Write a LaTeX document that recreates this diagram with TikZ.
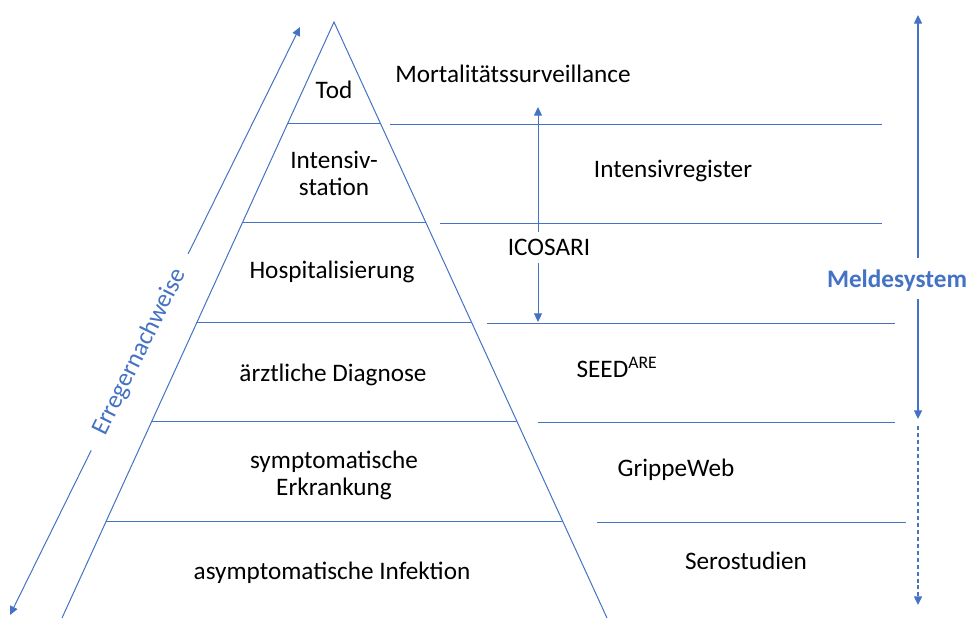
\documentclass[tikz,border=0pt]{standalone}
\usepackage{fontspec}
\setmainfont{Carlito}
\usetikzlibrary{arrows.meta,calc}
\tikzset{
  lbl/.style={font=\fontsize{18.9}{20.25}\selectfont,inner sep=0pt,anchor=base},
  tier/.style={lbl,align=center},
  rule/.style={blx,line width=0.75pt},
  tip/.style={-{Triangle[length=6.5pt,width=6pt]}}
}

\begin{document}
\begin{tikzpicture}[x=0.75pt,y=-0.75pt]
    \definecolor{blx}{HTML}{4472C4}
    \useasboundingbox (0,0) rectangle (969,618);

    \coordinate (top) at (334,22);
    \coordinate (bl) at (62,618);
    \coordinate (br) at (607,618);
    \draw [rule] (bl) -- (top) -- (br);

    \foreach \t/\n in {0.1711/1,0.3372/2,0.5050/3,0.6711/4,0.8389/5}
        \draw [rule] ($(top)!\t!(bl)$) coordinate (l\n) -- ($(top)!\t!(br)$) coordinate (r\n);

    \foreach \y/\a/\b in {124/390/882,223/440/882,323/487/895,422/538/895,522/597/906}
        \draw [rule] (\a,\y) -- (\b,\y);

    \node [lbl] (tod) at (334,98) {Tod};
    \node [tier] (icu) at (334,195) {Intensiv-\\station};
    \node [lbl] (hosp) at (332,278) {Hospitalisierung};
    \node [lbl] (arzt) at (333,381) {ärztliche Diagnose};
    \node [tier] (sympt) at (334,495) {symptomatische\\Erkrankung};
    \node [lbl] (asympt) at (332,579) {asymptomatische Infektion};

    \node [lbl] (mort) at (513,82) {Mortalitätssurveillance};
    \node [lbl] (intreg) at (673,177) {Intensivregister};
    \node [lbl] (icosari) at (549,255) {ICOSARI};
    \node [lbl] (seed) at (617,377) {SEED\textsuperscript{ARE}};
    \node [lbl] (grippe) at (676,476) {GrippeWeb};
    \node [lbl] (sero) at (746,569) {Serostudien};
    \node [lbl,font=\fontsize{18.9}{20.25}\selectfont\bfseries,text=blx] (meld) at (897,287) {Meldesystem};

    \coordinate (ico-up) at (538,107);
    \coordinate (ico-dn) at (538,322);
    \draw [rule,tip] (538,232) -- (ico-up);
    \draw [rule,tip] (538,263) -- (ico-dn);

    \coordinate (m-top) at (918,15);
    \coordinate (m-mid) at (918,419);
    \coordinate (m-bot) at (918,605);
    \draw [rule,line width=1pt,tip] (918,258) -- (m-top);
    \draw [rule,line width=1pt,tip] (918,299) -- (m-mid);
    \draw [rule,line width=1pt,tip,dash pattern=on 3pt off 2.2pt] (918,426) -- (m-bot);

    \coordinate (e-bot) at (10,615);
    \coordinate (e-top) at (300,27);
    \path (e-bot) -- node [sloped,pos=0.447,inner xsep=13.5pt,inner ysep=0pt,
        font=\fontsize{18.9}{20.25}\selectfont,text=blx] (erreger) {Erregernachweise} (e-top);
    \draw [rule,tip] (erreger) -- (e-top);
    \draw [rule,tip] (erreger) -- (e-bot);
\end{tikzpicture}
\end{document}
